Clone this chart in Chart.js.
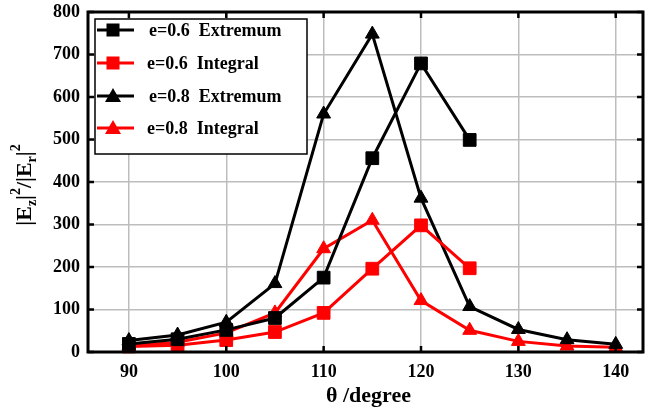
<!DOCTYPE html>
<html>
<head>
<meta charset="utf-8">
<script src="https://cdn.jsdelivr.net/npm/chart.js@4/dist/chart.umd.min.js"></script>
<style>
  body { margin: 0; background: #fff; }
  #wrap { width: 647px; height: 411px; position: relative; }
</style>
</head>
<body>
<div id="wrap"><canvas id="fieldChart"></canvas></div>
<script>
// data
const theta = [90, 95, 100, 105, 110, 115, 120, 125, 130, 135, 140];
const e06Extremum = [19, 30, 52, 80, 175, 456, 679, 499];
const e06Integral = [13, 16, 28, 47, 92, 196, 298, 197];
const e08Extremum = [27, 40, 70, 161, 560, 748, 362, 107, 53, 29, 18];
const e08Integral = [14, 23, 45, 92, 243, 310, 121, 51, 25, 14, 11];
const xTicks = [90, 100, 110, 120, 130, 140];
const yTicks = [0, 100, 200, 300, 400, 500, 600, 700, 800];

const labels = ['e=0.6  Extremum', 'e=0.6  Integral', 'e=0.8  Extremum', 'e=0.8  Integral'];

const toPoints = vals => vals.map((v, i) => ({ x: theta[i], y: v }));
const FONT = '"Liberation Serif", "Times New Roman", serif';

function series(label, vals, color, style, radius) {
  return {
    label: label,
    data: toPoints(vals),
    borderColor: color,
    backgroundColor: color,
    borderWidth: 3,
    pointStyle: style,
    pointRadius: radius,
    pointHoverRadius: radius,
    pointBorderWidth: 1,
    tension: 0,
    clip: false
  };
}

// frame, inward ticks, axis titles and legend box
const decorations = {
  id: 'decorations',
  afterDraw(chart) {
    const c = chart.ctx;
    const a = chart.chartArea;
    const xs = chart.scales.x, ys = chart.scales.y;
    c.save();
    c.strokeStyle = '#000';
    c.lineWidth = 3;
    c.strokeRect(a.left, a.top, a.right - a.left, a.bottom - a.top);
    c.lineWidth = 2.5;
    c.beginPath();
    xTicks.forEach(t => {
      const px = xs.getPixelForValue(t);
      c.moveTo(px, a.bottom); c.lineTo(px, a.bottom - 6);
      c.moveTo(px, a.top); c.lineTo(px, a.top + 6);
    });
    yTicks.forEach(t => {
      const py = ys.getPixelForValue(t);
      c.moveTo(a.left, py); c.lineTo(a.left + 6, py);
      c.moveTo(a.right, py); c.lineTo(a.right - 6, py);
    });
    c.stroke();

    // x title
    c.fillStyle = '#000';
    c.font = 'bold 22px ' + FONT;
    c.textAlign = 'center';
    c.textBaseline = 'alphabetic';
    c.fillText('\u03b8 /degree', (a.left + a.right) / 2 + 3, 402);

    // y title |Ez|^2/|Er|^2
    const parts = [
      ['|E', 0, 22], ['z', 5, 14], ['|', 0, 22], ['2', -11, 14], ['/|E', 0, 22],
      ['r', 5, 14], ['|', 0, 22], ['2', -11, 14]
    ];
    let total = 0;
    parts.forEach(p => { c.font = 'bold ' + p[2] + 'px ' + FONT; total += c.measureText(p[0]).width; });
    c.translate(31, (a.top + a.bottom) / 2 + 3);
    c.rotate(-Math.PI / 2);
    c.textAlign = 'left';
    let px = -total / 2;
    parts.forEach(p => {
      c.font = 'bold ' + p[2] + 'px ' + FONT;
      c.fillText(p[0], px, p[1]);
      px += c.measureText(p[0]).width;
    });
    c.setTransform(1, 0, 0, 1, 0, 0);

    // legend
    c.fillStyle = '#fff';
    c.fillRect(95, 19, 212, 135);
    c.lineWidth = 1.5;
    c.strokeStyle = '#000';
    c.strokeRect(95, 19, 212, 135);
    const rows = [30, 63, 96, 128];
    chart.data.datasets.forEach((ds, i) => {
      const y = rows[i];
      c.strokeStyle = ds.borderColor;
      c.fillStyle = ds.borderColor;
      c.lineWidth = 3;
      c.beginPath(); c.moveTo(97, y); c.lineTo(134, y); c.stroke();
      if (ds.pointStyle === 'rect') {
        c.fillRect(113 - 6.5, y - 6.5, 13, 13);
      } else {
        c.beginPath();
        c.moveTo(113, y - 8); c.lineTo(121, y + 6); c.lineTo(105, y + 6);
        c.closePath(); c.fill();
      }
      c.fillStyle = '#000';
      c.font = 'bold 18px ' + FONT;
      c.textBaseline = 'middle';
      c.fillText(ds.label, i % 2 ? 147 : 149, y + 1);
    });
    c.restore();
  }
};

const ctx = document.getElementById('fieldChart').getContext('2d');

new Chart(ctx, {
  type: 'line',
  data: {
    datasets: [
      series(labels[0], e06Extremum, '#000000', 'rect', 9),
      series(labels[1], e06Integral, '#ff0000', 'rect', 9),
      series(labels[2], e08Extremum, '#000000', 'triangle', 8),
      series(labels[3], e08Integral, '#ff0000', 'triangle', 8)
    ]
  },
  options: {
    responsive: true,
    maintainAspectRatio: false,
    animation: false,
    layout: { autoPadding: false, padding: { top: 12, right: 4, left: 0, bottom: 0 } },
    plugins: {
      legend: { display: false },
      tooltip: { enabled: false }
    },
    scales: {
      x: {
        type: 'linear',
        min: 85.8,
        max: 142.8,
        afterBuildTicks: axis => { axis.ticks = xTicks.map(v => ({ value: v })); },
        afterFit: axis => {
          axis.height = 59;
          axis.paddingLeft = 0;
          axis.paddingRight = 0;
        },
        grid: { color: '#bdbdbd', lineWidth: 1.5, drawTicks: false },
        border: { display: false },
        ticks: {
          color: '#000',
          padding: 10,
          maxRotation: 0,
          font: { family: FONT, size: 18, weight: 'bold' }
        }
      },
      y: {
        min: 0,
        max: 800,
        afterBuildTicks: axis => { axis.ticks = yTicks.map(v => ({ value: v })); },
        afterFit: axis => {
          axis.width = 88;
          axis.paddingTop = 0;
          axis.paddingBottom = 0;
        },
        grid: { color: '#bdbdbd', lineWidth: 1.5, drawTicks: false },
        border: { display: false },
        ticks: {
          color: '#000',
          padding: 8,
          font: { family: FONT, size: 18, weight: 'bold' }
        }
      }
    }
  },
  plugins: [decorations]
});
</script>
</body>
</html>
